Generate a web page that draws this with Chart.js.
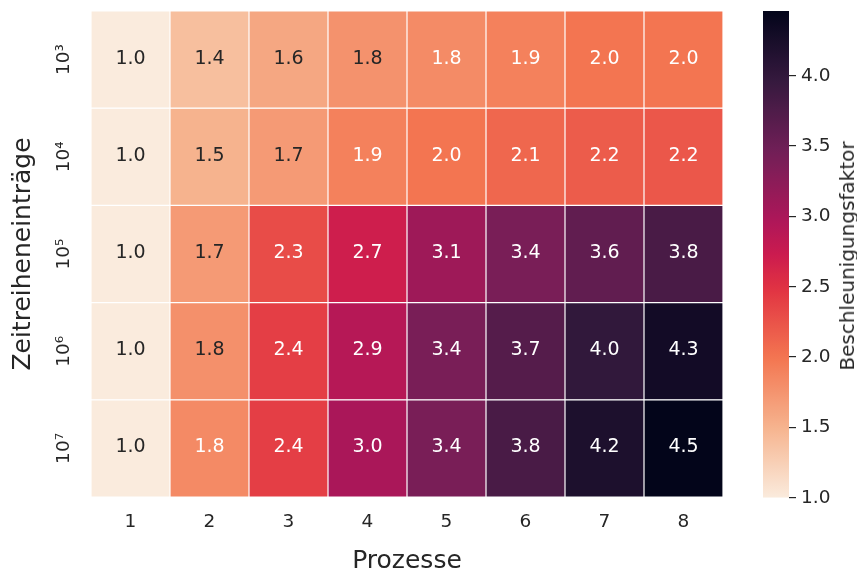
<!DOCTYPE html>
<html>
<head>
<meta charset="utf-8">
<script src="https://cdn.jsdelivr.net/npm/chart.js@4/dist/chart.umd.min.js"></script>
<style>
  html, body { margin: 0; padding: 0; background: #ffffff; }
  #wrap { position: relative; width: 857px; height: 576px; }
  #wrap canvas { position: absolute; left: 0; top: 0; }
  #cbTitle {
    position: absolute; left: 847px; top: 256px;
    transform: translate(-50%, -50%) rotate(-90deg);
    font: 20px 'DejaVu Sans'; color: #262626; white-space: nowrap; line-height: 1;
  }
</style>
</head>
<body>
<div id="wrap">
  <canvas id="heat" width="857" height="576"></canvas>
  <canvas id="scaleBar" width="857" height="576"></canvas>
  <div id="cbTitle">Beschleunigungsfaktor</div>
</div>
<script>
// Number of processes (columns) and time-series sizes (rows)
const processes = ['1', '2', '3', '4', '5', '6', '7', '8'];
const entryLabels = ['10³', '10⁴', '10⁵', '10⁶', '10⁷'];

// Speedup per number of processes, one array per time-series size
const speedup1e3 = [1.0, 1.4, 1.6, 1.77, 1.82, 1.9, 2.0, 2.0];
const speedup1e4 = [1.0, 1.5, 1.7, 1.9, 2.0, 2.1, 2.18, 2.22];
const speedup1e5 = [1.0, 1.7, 2.3, 2.7, 3.1, 3.4, 3.6, 3.8];
const speedup1e6 = [1.0, 1.78, 2.4, 2.9, 3.4, 3.7, 4.0, 4.3];
const speedup1e7 = [1.0, 1.83, 2.4, 3.0, 3.4, 3.8, 4.2, 4.46];

// Colour bar tick values
const colorbarTicks = [1.0, 1.5, 2.0, 2.5, 3.0, 3.5, 4.0];

const rows = [speedup1e3, speedup1e4, speedup1e5, speedup1e6, speedup1e7];
const allValues = rows.flat();
const V_MIN = Math.min(...allValues);
const V_MAX = Math.max(...allValues);
// cells at or above this speedup get white annotation text
const LIGHT_TEXT_FROM = 1.8;
const TEXT_DARK = '#262626';

// "rocket" colormap anchors (dark -> light); used reversed
const rocketStops = [
  [0.000, [3, 5, 26]],
  [0.143, [53, 25, 62]],
  [0.286, [112, 31, 87]],
  [0.429, [173, 23, 89]],
  [0.500, [203, 27, 79]],
  [0.571, [225, 51, 66]],
  [0.714, [243, 118, 81]],
  [0.857, [246, 180, 143]],
  [1.000, [250, 235, 221]]
];

function rocket(t) {
  t = Math.max(0, Math.min(1, t));
  for (let i = 1; i < rocketStops.length; i++) {
    const [t1, c1] = rocketStops[i];
    const [t0, c0] = rocketStops[i - 1];
    if (t <= t1) {
      const f = (t - t0) / (t1 - t0);
      const c = c0.map((v, k) => Math.round(v + (c1[k] - v) * f));
      return `rgb(${c[0]},${c[1]},${c[2]})`;
    }
  }
  const c = rocketStops[rocketStops.length - 1][1];
  return `rgb(${c[0]},${c[1]},${c[2]})`;
}
// reversed colormap: low values light, high values dark
function colorFor(v) {
  return rocket(1 - (v - V_MIN) / (V_MAX - V_MIN));
}

// keep the plot areas exactly where the layout padding puts them
function noEdgePadding(s) {
  s.paddingTop = 0; s.paddingBottom = 0; s.paddingLeft = 0; s.paddingRight = 0;
}

Chart.defaults.font.family = "'DejaVu Sans', sans-serif";
Chart.defaults.color = TEXT_DARK;

// Writes the speedup value in the middle of each cell
const cellLabels = {
  id: 'cellLabels',
  afterDatasetsDraw(chart) {
    const c = chart.ctx;
    c.save();
    c.font = "19px 'DejaVu Sans'";
    c.textAlign = 'center';
    c.textBaseline = 'middle';
    chart.data.datasets.forEach((ds, i) => {
      chart.getDatasetMeta(i).data.forEach((el, j) => {
        const v = ds.speedup[j];
        const p = el.getCenterPoint();
        c.fillStyle = v >= LIGHT_TEXT_FROM ? '#ffffff' : TEXT_DARK;
        c.fillText(v.toFixed(1), p.x, p.y - 1);
      });
    });
    c.restore();
  }
};

// Heatmap: one stacked unit bar per (row, column) cell
new Chart(document.getElementById('heat'), {
  type: 'bar',
  data: {
    labels: processes,
    datasets: rows.map((vals, i) => ({
      label: entryLabels[i],
      data: processes.map(() => 1),
      speedup: vals,
      backgroundColor: vals.map(colorFor),
      borderColor: '#ffffff',
      borderWidth: 0.6,
      borderSkipped: false,
      inflateAmount: 0,
      barPercentage: 1,
      categoryPercentage: 1
    }))
  },
  options: {
    responsive: false,
    animation: false,
    devicePixelRatio: 1,
    layout: { padding: { left: 0, top: 11, right: 134, bottom: 0 } },
    plugins: { legend: { display: false }, tooltip: { enabled: false } },
    scales: {
      x: {
        type: 'category',
        stacked: true,
        grid: { display: false, drawTicks: false },
        border: { display: false },
        ticks: { padding: 14, font: { size: 18.5 }, maxRotation: 0 },
        title: {
          display: true, text: 'Prozesse',
          font: { size: 25, lineHeight: 1.15 },
          padding: { top: 0, bottom: 0 }
        },
        afterFit(s) { s.height = 79; noEdgePadding(s); }
      },
      y: {
        type: 'linear',
        stacked: true,
        reverse: true,
        min: 0,
        max: entryLabels.length,
        afterBuildTicks(s) { s.ticks = entryLabels.map((_, i) => ({ value: i + 0.5 })); },
        grid: { display: false, drawTicks: false },
        border: { display: false },
        ticks: {
          autoSkip: false,
          minRotation: 90, maxRotation: 90,
          crossAlign: 'center',
          padding: 11.5,
          font: { size: 18.5 },
          callback: (v, i) => entryLabels[i]
        },
        title: {
          display: true, text: 'Zeitreiheneinträge',
          font: { size: 25, lineHeight: 1.2 },
          padding: { top: 8, bottom: 0 }
        },
        afterFit(s) { s.width = 91; noEdgePadding(s); }
      }
    }
  },
  plugins: [cellLabels]
});

// Colour bar: one floating bar filled with the colormap gradient
new Chart(document.getElementById('scaleBar'), {
  type: 'bar',
  data: {
    labels: [''],
    datasets: [{
      data: [[V_MIN, V_MAX]],
      backgroundColor(ctx) {
        const chart = ctx.chart;
        const area = chart.chartArea;
        if (!area) return 'rgba(0,0,0,0)';
        const y = chart.scales.y;
        const g = chart.ctx.createLinearGradient(0, y.getPixelForValue(V_MIN), 0, y.getPixelForValue(V_MAX));
        const n = 64;
        for (let k = 0; k <= n; k++) {
          g.addColorStop(k / n, colorFor(V_MIN + (V_MAX - V_MIN) * k / n));
        }
        return g;
      },
      borderWidth: 0,
      inflateAmount: 0,
      barPercentage: 1,
      categoryPercentage: 1
    }]
  },
  options: {
    responsive: false,
    animation: false,
    devicePixelRatio: 1,
    layout: { padding: { left: 763, top: 11, right: 0, bottom: 78.3 } },
    plugins: { legend: { display: false }, tooltip: { enabled: false } },
    scales: {
      x: { display: false },
      y: {
        position: 'right',
        min: V_MIN,
        max: V_MAX,
        afterBuildTicks(s) { s.ticks = colorbarTicks.map(v => ({ value: v })); },
        grid: { display: true, drawOnChartArea: false, drawTicks: true, tickLength: 7, color: TEXT_DARK, lineWidth: 1.2 },
        border: { display: false },
        ticks: { padding: 5, font: { size: 18.5 }, callback: v => v.toFixed(1) },
        afterFit(s) { s.width = 68; noEdgePadding(s); }
      }
    }
  }
});
</script>
</body>
</html>
